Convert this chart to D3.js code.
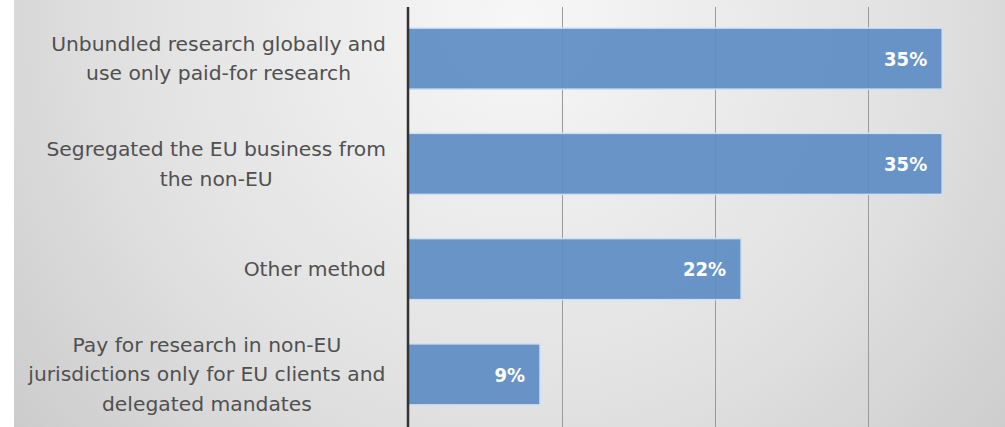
<!DOCTYPE html>
<html>
<head>
<meta charset="utf-8">
<script src="https://cdn.jsdelivr.net/npm/d3@7"></script>
<style>
  html, body { margin: 0; padding: 0; background: #fff; }
  svg { display: block; }
</style>
</head>
<body>
<div id="chart"></div>
<script>
const categories = [
  'Unbundled research globally and use only paid-for research',
  'Segregated the EU business from the non-EU',
  'Other method',
  'Pay for research in non-EU jurisdictions only for EU clients and delegated mandates'
]
const labelLines = [
  ['Unbundled research globally and', 'use only paid-for research'],
  ['Segregated the EU business from', 'the non-EU'],
  ['Other method'],
  ['Pay for research in non-EU', 'jurisdictions only for EU clients and', 'delegated mandates']
]
const values = [0.348, 0.348, 0.217, 0.086]
const gridTicks = [0, 0.1, 0.2, 0.3, 0.4]

const width = 1005
const height = 427
const axisX = 408
const labelRight = 386

const svg = d3.select('#chart').append('svg')
  .attr('width', width)
  .attr('height', height)

const defs = svg.append('defs')
const grad = defs.append('radialGradient')
  .attr('id', 'bg')
  .attr('gradientUnits', 'userSpaceOnUse')
  .attr('cx', 520).attr('cy', 20)
  .attr('r', 720)
grad.append('stop').attr('offset', '0%').attr('stop-color', '#f7f7f7')
grad.append('stop').attr('offset', '55%').attr('stop-color', '#e1e1e1')
grad.append('stop').attr('offset', '100%').attr('stop-color', '#c6c6c6')

svg.append('rect').attr('width', width).attr('height', height).attr('fill', '#fff')
svg.append('rect')
  .attr('x', 14).attr('y', 0)
  .attr('width', width - 14).attr('height', height)
  .attr('fill', 'url(#bg)')

const x = d3.scaleLinear().domain([0, 0.4]).range([axisX, axisX + 614])
const y = d3.scaleBand().domain(categories).range([6, 427])
  .paddingInner(0.42).paddingOuter(0.21)

// Grid
svg.append('g')
  .selectAll('line').data(gridTicks.slice(1)).join('line')
  .attr('x1', d => Math.round(x(d)) + 0.5).attr('x2', d => Math.round(x(d)) + 0.5)
  .attr('y1', 7).attr('y2', height)
  .attr('stroke', '#9a9a9a')
  .attr('stroke-width', 1)

// Bars
svg.append('g')
  .selectAll('rect').data(values).join('rect')
  .attr('x', x(0))
  .attr('y', (d, i) => y(categories[i]))
  .attr('width', d => x(d) - x(0))
  .attr('height', y.bandwidth())
  .attr('fill', '#5f8dc5')
  .attr('fill-opacity', 0.93)
  .attr('stroke', '#cfe0f3')
  .attr('stroke-width', 1.5)

// Value labels
svg.append('g')
  .selectAll('text').data(values).join('text')
  .attr('x', d => x(d) - 15)
  .attr('y', (d, i) => y(categories[i]) + y.bandwidth() / 2)
  .attr('dy', '0.36em')
  .attr('text-anchor', 'end')
  .attr('fill', '#fff')
  .attr('font-family', '"DejaVu Sans", sans-serif')
  .attr('font-stretch', 'condensed')
  .attr('font-weight', 'bold')
  .attr('font-size', '20px')
  .text(d => d3.format('.0%')(d))

// Axis line
svg.append('line')
  .attr('x1', axisX).attr('x2', axisX)
  .attr('y1', 7).attr('y2', height)
  .attr('stroke', '#333')
  .attr('stroke-width', 2.5)

// Category labels
const lineH = 29.5
categories.forEach((c, i) => {
  const lines = labelLines[i]
  const cy = y(c) + y.bandwidth() / 2
  const t = svg.append('text')
    .attr('text-anchor', 'middle')
    .attr('fill', '#505050')
    .attr('font-family', '"DejaVu Sans", sans-serif')
    .attr('font-size', '20.3px')
  lines.forEach((ln, j) => {
    t.append('tspan')
      .attr('x', 0)
      .attr('y', cy + (j - (lines.length - 1) / 2) * lineH)
      .attr('dy', '0.35em')
      .text(ln)
  })
  const w = t.node().getBBox().width
  t.selectAll('tspan').attr('x', labelRight - w / 2)
})
</script>
</body>
</html>
